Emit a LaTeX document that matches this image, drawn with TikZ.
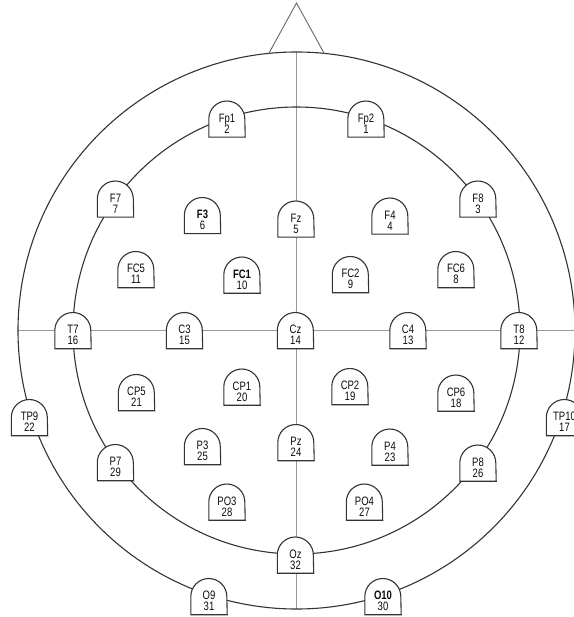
\documentclass[tikz,border=0pt]{standalone}
\usepackage{fontspec}
\setmainfont{Liberation Sans}[FakeStretch=0.78]
\lineskiplimit=-20pt
\lineskip=0pt
\begin{document}
\begin{tikzpicture}[x=1pt,y=-1pt,
  headline/.style={draw=black!80,line width=1.1pt},
  axisline/.style={draw=black!40,line width=0.9pt},
  noseline/.style={draw=black!60,line width=0.9pt},
  ebox/.style={rectangle,minimum width=36pt,minimum height=36pt,inner sep=0pt,draw=none},
  tomb/.style={draw=black!80,fill=white,line width=1.1pt},
  etxt/.style={inner sep=0pt,align=center,text=black!95,
    font=\fontsize{12.2}{11}\selectfont}]
\useasboundingbox (0,0) rectangle (573,617);
\coordinate (c) at (296.5,330.5);
\coordinate (vt) at (296.5,52);
\coordinate (vb) at (296.5,609);
\coordinate (hl) at (18,330.5);
\coordinate (hr) at (575,330.5);
\coordinate (nl) at (268.5,54);
\coordinate (na) at (296.5,3);
\coordinate (nr) at (324.5,54);
% axes
\draw[axisline] (vt) -- (vb);
\draw[axisline] (hl) -- (hr);
% head circles
\draw[headline] (c) circle[radius=278.5pt];
\draw[headline] (c) circle[radius=223.5pt];
% nose
\draw[noseline] (nl) -- (na) -- (nr);
% electrodes
\foreach \nm/\xx/\yy/\ta/\tb/\wt in {
  Fp1/227/119/Fp1/2/m, Fp2/366/119/Fp2/1/m,
  F7/115.5/199/F7/7/m, F8/478/199/F8/3/m,
  F3/202.5/215.5/F3/6/b, Fz/296/219/Fz/5/m, F4/390/216/F4/4/m,
  FC5/136/269.5/FC5/11/m, FC1/242/275/FC1/10/b, FC2/350.5/274.5/FC2/9/m, FC6/456/269.5/FC6/8/m,
  T7/73/330.5/T7/16/m, C3/184.5/330.5/C3/15/m, Cz/295.5/330.5/Cz/14/m, C4/408/330.5/C4/13/m, T8/519/330.5/T8/12/m,
  CP5/136.5/392.5/CP5/21/m, CP1/242/387/CP1/20/m, CP2/350/386.5/CP2/19/m, CP6/456/393/CP6/18/m,
  TP9/29.5/417.5/TP9/22/m, TP10/564.5/417.5/TP10/17/m,
  P7/115.5/462.5/P7/29/m, P3/202.5/446.5/P3/25/m, Pz/296/442.5/Pz/24/m, P4/390/447/P4/23/m, P8/478/463/P8/26/m,
  PO3/227/502/PO3/28/m, PO4/364.5/502/PO4/27/m,
  Oz/295.5/555/Oz/32/m,
  O9/209/596.5/O9/31/m, O10/383/596.5/O10/30/b}
{
  \node[ebox] (\nm) at (\xx,\yy) {};
  \draw[tomb] (\nm.south west) -- (\nm.west) arc[start angle=180,end angle=0,radius=18pt] -- (\nm.south east) -- cycle;
  \node[etxt] (\nm-t) at ([yshift=-4.4pt]\nm.center) {\fontseries{\wt}\selectfont\ta\\\tb};
}
\end{tikzpicture}
\end{document}
